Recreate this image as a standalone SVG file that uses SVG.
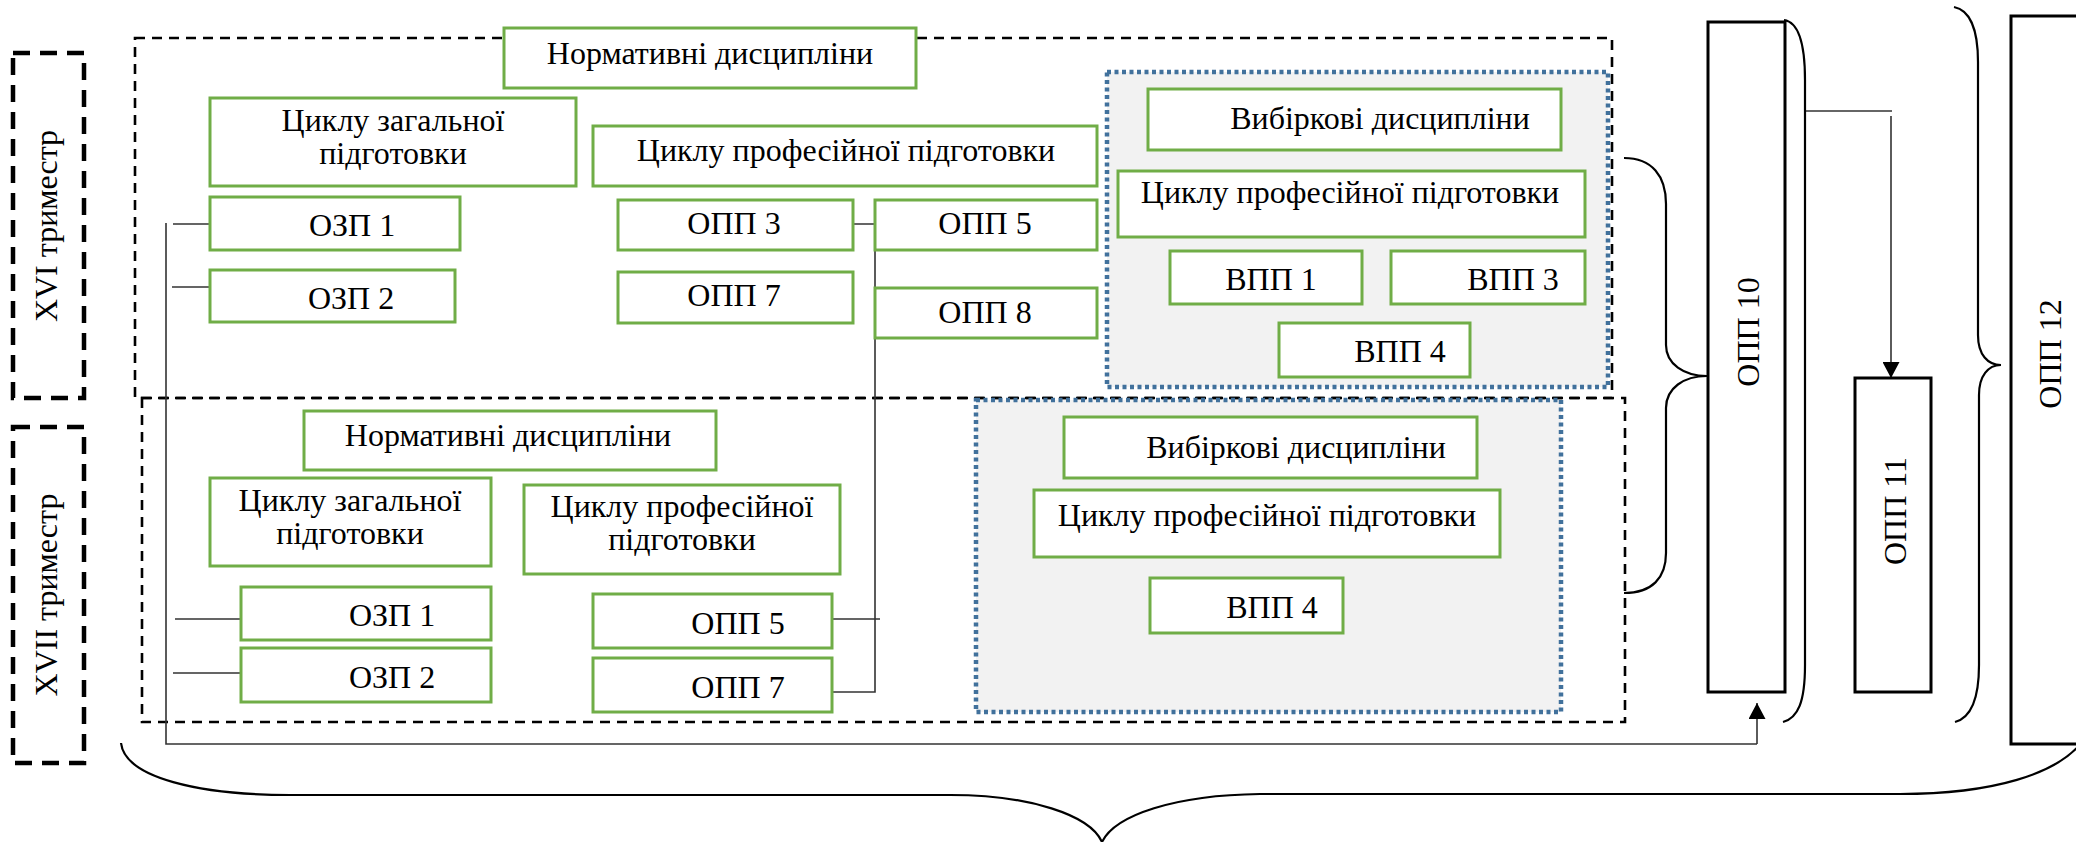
<svg xmlns="http://www.w3.org/2000/svg" width="2076" height="842" viewBox="0 0 2076 842">
<defs>
<marker id="ah" markerWidth="16" markerHeight="17" refX="16" refY="8.5" orient="auto" markerUnits="userSpaceOnUse">
<path d="M0,0 L16,8.5 L0,17 Z" fill="#000"/>
</marker>
</defs>
<style>
.t{font-family:"Liberation Serif","Times New Roman",serif;font-size:32px;fill:#000;text-anchor:middle}
.g{fill:#fff;stroke:#70AD47;stroke-width:3}
.b{fill:#fff;stroke:#000;stroke-width:3}
.dash{fill:none;stroke:#000;stroke-width:2.6;stroke-dasharray:10 7}
.tdash{fill:none;stroke:#000;stroke-width:4.5;stroke-dasharray:17 10}
.blue{fill:#F2F2F2;stroke:#41719C;stroke-width:4.5;stroke-dasharray:4 3.5}
.c{fill:none;stroke:#333;stroke-width:1.6}
.br{fill:none;stroke:#000;stroke-width:2.2}
</style>
<rect width="2076" height="842" fill="#fff"/>

<g id="trimester16"><rect class="tdash" x="13" y="53" width="71" height="345"/><text class="t" transform="translate(57,226) rotate(-90)">XVI триместр</text></g>
<g id="trimester17"><rect class="tdash" x="13" y="427" width="71" height="336"/><text class="t" transform="translate(57,595) rotate(-90)">XVII триместр</text></g>

<g id="frame16"><rect class="dash" x="135" y="38" width="1477" height="360"/></g>
<g id="frame17"><rect class="dash" x="142" y="398" width="1483" height="324"/></g>

<g id="elective16"><rect class="blue" x="1107" y="72" width="501" height="315"/></g>
<g id="elective17"><rect class="blue" x="976" y="400" width="585" height="312"/></g>

<g id="connectors">
<path class="c" d="M166,223 V744 H1757"/>
<path class="c" d="M1757,744 V703" marker-end="url(#ah)"/>
<path class="c" d="M173,224 H210 M172,287 H210 M175,619 H241 M173,673 H241"/>
<path class="c" d="M840,224 H875 V692 H831 M832,619 H880"/>
<path class="c" d="M1806,111 H1892"/>
<path class="c" d="M1891,116 V378" marker-end="url(#ah)"/>
<path class="br" d="M1624,158 C1652,158 1666,176 1666,204 L1666,345 C1666,364 1684,376 1707,376 C1684,376 1666,388 1666,408 L1666,553 C1666,578 1652,593 1624,593"/>
<path class="br" d="M1784,20 C1798,22 1805,42 1805,80 L1805,665 C1805,702 1798,718 1783,722"/>
<path class="br" d="M1954,7 C1970,10 1978,30 1978,62 L1978,335 C1978,355 1988,365 2001,365 C1988,365 1979,376 1979,395 L1979,665 C1979,700 1970,718 1955,722"/>
<path class="br" d="M121,743 C125,778 200,795 290,795 L950,795 C1030,795 1090,815 1102,842 C1115,815 1175,795 1260,794 L1900,794 C1990,794 2060,775 2085,738"/>
</g>

<g id="n16-norm"><rect class="g" x="504" y="28" width="412" height="60"/><text class="t" x="710" y="64">Нормативні дисципліни</text></g>
<g id="n16-zag"><rect class="g" x="210" y="98" width="366" height="88"/><text class="t" x="393" y="131">Циклу загальної</text><text class="t" x="393" y="164">підготовки</text></g>
<g id="n16-prof"><rect class="g" x="593" y="126" width="504" height="60"/><text class="t" x="846" y="161">Циклу професійної підготовки</text></g>
<g id="n16-ozp1"><rect class="g" x="210" y="197" width="250" height="53"/><text class="t" x="352" y="236">ОЗП 1</text></g>
<g id="n16-ozp2"><rect class="g" x="210" y="270" width="245" height="52"/><text class="t" x="351" y="309">ОЗП 2</text></g>
<g id="n16-opp3"><rect class="g" x="618" y="200" width="235" height="50"/><text class="t" x="734" y="234">ОПП 3</text></g>
<g id="n16-opp7"><rect class="g" x="618" y="272" width="235" height="51"/><text class="t" x="734" y="306">ОПП 7</text></g>
<g id="n16-opp5"><rect class="g" x="875" y="200" width="222" height="50"/><text class="t" x="985" y="234">ОПП 5</text></g>
<g id="n16-opp8"><rect class="g" x="875" y="288" width="222" height="50"/><text class="t" x="985" y="323">ОПП 8</text></g>
<g id="n16-vyb"><rect class="g" x="1148" y="89" width="413" height="61"/><text class="t" x="1380" y="129">Вибіркові дисципліни</text></g>
<g id="n16-vprof"><rect class="g" x="1118" y="171" width="467" height="66"/><text class="t" x="1350" y="203">Циклу професійної підготовки</text></g>
<g id="n16-vpp1"><rect class="g" x="1170" y="251" width="192" height="53"/><text class="t" x="1271" y="290">ВПП 1</text></g>
<g id="n16-vpp3"><rect class="g" x="1391" y="251" width="194" height="53"/><text class="t" x="1513" y="290">ВПП 3</text></g>
<g id="n16-vpp4"><rect class="g" x="1279" y="323" width="191" height="54"/><text class="t" x="1400" y="362">ВПП 4</text></g>

<g id="n17-norm"><rect class="g" x="304" y="411" width="412" height="59"/><text class="t" x="508" y="446">Нормативні дисципліни</text></g>
<g id="n17-zag"><rect class="g" x="210" y="478" width="281" height="88"/><text class="t" x="350" y="511">Циклу загальної</text><text class="t" x="350" y="544">підготовки</text></g>
<g id="n17-prof"><rect class="g" x="524" y="485" width="316" height="89"/><text class="t" x="682" y="517">Циклу професійної</text><text class="t" x="682" y="550">підготовки</text></g>
<g id="n17-ozp1"><rect class="g" x="241" y="587" width="250" height="53"/><text class="t" x="392" y="626">ОЗП 1</text></g>
<g id="n17-ozp2"><rect class="g" x="241" y="648" width="250" height="54"/><text class="t" x="392" y="688">ОЗП 2</text></g>
<g id="n17-opp5"><rect class="g" x="593" y="594" width="239" height="54"/><text class="t" x="738" y="634">ОПП 5</text></g>
<g id="n17-opp7"><rect class="g" x="593" y="658" width="239" height="54"/><text class="t" x="738" y="698">ОПП 7</text></g>
<g id="n17-vyb"><rect class="g" x="1064" y="417" width="413" height="61"/><text class="t" x="1296" y="458">Вибіркові дисципліни</text></g>
<g id="n17-vprof"><rect class="g" x="1034" y="490" width="466" height="67"/><text class="t" x="1267" y="526">Циклу професійної підготовки</text></g>
<g id="n17-vpp4"><rect class="g" x="1150" y="578" width="193" height="55"/><text class="t" x="1272" y="618">ВПП 4</text></g>

<g id="opp10"><rect class="b" x="1708" y="22" width="77" height="670"/><text class="t" transform="translate(1759,332) rotate(-90)">ОПП 10</text></g>
<g id="opp11"><rect class="b" x="1855" y="378" width="76" height="314"/><text class="t" transform="translate(1906,511) rotate(-90)">ОПП 11</text></g>
<g id="opp12"><rect class="b" x="2011" y="16" width="90" height="728"/><text class="t" transform="translate(2061,354) rotate(-90)">ОПП 12</text></g>
</svg>
